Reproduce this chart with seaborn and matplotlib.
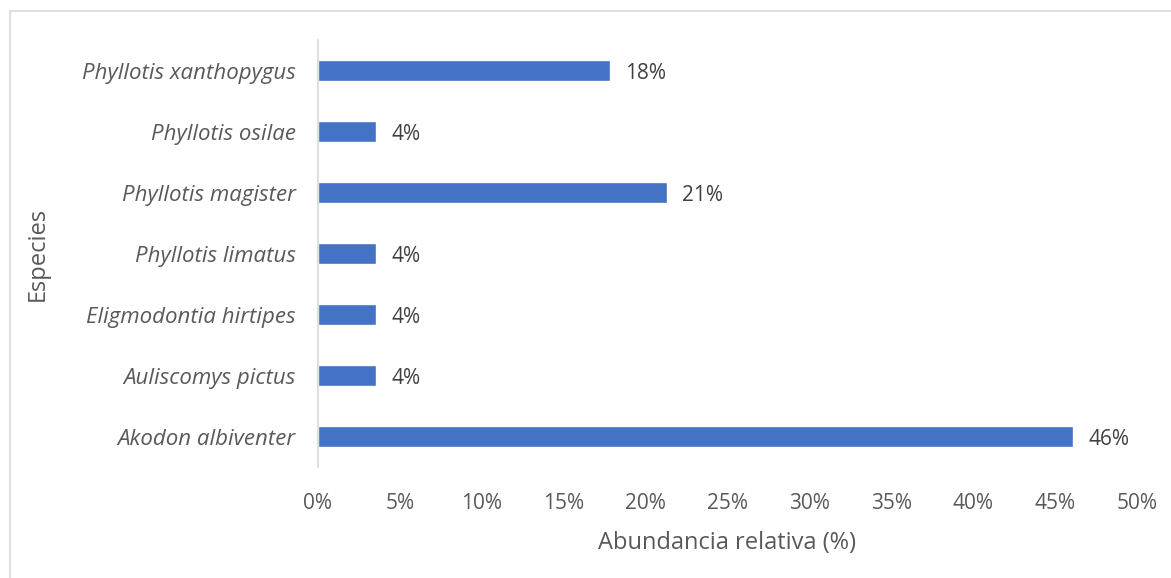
import matplotlib
matplotlib.use("Agg")
import matplotlib.pyplot as plt
from matplotlib.lines import Line2D
import seaborn as sns
import pandas as pd

# species and relative abundance (%)
especies = ["Phyllotis xanthopygus", "Phyllotis osilae", "Phyllotis magister",
            "Phyllotis limatus", "Eligmodontia hirtipes", "Auliscomys pictus",
            "Akodon albiventer"]
abundancia = [17.8, 3.55, 21.3, 3.55, 3.55, 3.55, 46.1]
xticks = [0, 5, 10, 15, 20, 25, 30, 35, 40, 45, 50]

df = pd.DataFrame({"Especies": especies, "Abundancia": abundancia})

sns.set_style("white")
plt.rcParams["font.family"] = ["Open Sans", "DejaVu Sans"]

fig = plt.figure(figsize=(11.71, 5.78), dpi=100)
ax = fig.add_axes([318 / 1171, 1 - 467 / 578, (1137 - 318) / 1171, 427 / 578])

sns.barplot(data=df, x="Abundancia", y="Especies", orient="h",
            color="#4472C4", saturation=1, width=0.36, ax=ax)

labels = ax.bar_label(ax.containers[0], fmt="{:.0f}%", padding=11, fontsize=15, color="#404040")
for t in labels:
    t.xyann = (11, -2.5)

ax.set_xlim(0, 50)
ax.set_xticks(xticks)
ax.set_xticklabels([f"{t}%" for t in xticks])
ax.tick_params(axis="x", length=0, pad=19, labelsize=15, labelcolor="#595959")
ax.tick_params(axis="y", length=0, pad=16, labelsize=16, labelcolor="#595959")
for lbl in ax.get_yticklabels():
    lbl.set_fontstyle("italic")

ax.set_xlabel("Abundancia relativa (%)", fontsize=17, color="#595959", labelpad=12)
ax.set_ylabel("Especies", fontsize=17, color="#595959", labelpad=23)

for s in ["top", "right", "bottom"]:
    ax.spines[s].set_visible(False)
ax.spines["left"].set_color("#D9D9D9")
ax.spines["left"].set_linewidth(1.2)

# light frame like the original chart area
fig.add_artist(Line2D([10 / 1171, 1], [1 - 11 / 578, 1 - 11 / 578],
                      transform=fig.transFigure, color="#D9D9D9", lw=1.2))
fig.add_artist(Line2D([10 / 1171, 10 / 1171], [0, 1 - 11 / 578],
                      transform=fig.transFigure, color="#D9D9D9", lw=1.2))

fig.savefig("out.png", dpi=100)
